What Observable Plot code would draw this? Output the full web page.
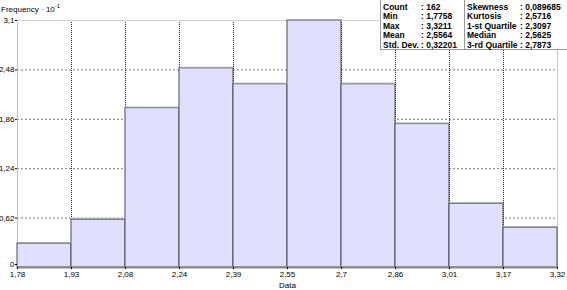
<!DOCTYPE html>
<html>
<head>
<meta charset="utf-8">
<script src="https://cdn.jsdelivr.net/npm/d3@7"></script>
<script src="https://cdn.jsdelivr.net/npm/@observablehq/plot@0.6"></script>
<style>
  body { margin: 0; background: #fff; }
  #wrap { position: relative; width: 567px; height: 290px; font-family: "Liberation Sans", Arial, sans-serif; }
  #ytitle { position: absolute; left: 1px; top: 5px; font-size: 8px; color: #000; }
  #ytitle sup { font-size: 6px; vertical-align: 4px; line-height: 0; }
  #stats { position: absolute; left: 380px; top: -1px; width: 190px; height: 51px; background: #fff; border: 1px solid #999; box-sizing: border-box; font-weight: bold; font-size: 8.5px; color: #000; }
  #stats span { position: absolute; white-space: nowrap; }
  #sep { position: absolute; left: 83px; top: 0; width: 1px; height: 50px; background: #999; }
</style>
</head>
<body>
<div id="wrap">
  <div id="chart"></div>
  <div id="ytitle">Frequency · 10<sup>-1</sup></div>
  <div id="stats"><div id="sep"></div></div>
</div>
<script>
// Bin edges (Data) and their printed labels
const binEdges = [1.7758, 1.9303, 2.0848, 2.2394, 2.3939, 2.5484, 2.7030, 2.8575, 3.0120, 3.1666, 3.3211];
const xTickLabels = ["1,78", "1,93", "2,08", "2,24", "2,39", "2,55", "2,7", "2,86", "3,01", "3,17", "3,32"];
// Frequency · 10^-1 per bin
const frequencies = [0.3, 0.6, 2.0, 2.5, 2.3, 3.1, 2.3, 1.8, 0.8, 0.5];
const yTicks = [0, 0.62, 1.24, 1.86, 2.48, 3.1];
const yTickLabels = ["0", "0,62", "1,24", "1,86", "2,48", "3,1"];
// Statistics box
const statNamesLeft = ["Count", "Min", "Max", "Mean", "Std. Dev."];
const statValuesLeft = ["162", "1,7758", "3,3211", "2,5564", "0,32201"];
const statNamesRight = ["Skewness", "Kurtosis", "1-st Quartile", "Median", "3-rd Quartile"];
const statValuesRight = ["0,089685", "2,5716", "2,3097", "2,5625", "2,7873"];

const bins = frequencies.map((f, i) => ({x1: binEdges[i], x2: binEdges[i + 1], f}));
const xFmt = new Map(binEdges.map((e, i) => [e, xTickLabels[i]]));
const yFmt = new Map(yTicks.map((t, i) => [t, yTickLabels[i]]));

const chart = Plot.plot({
  width: 567,
  height: 290,
  marginLeft: 17,
  marginRight: 10,
  marginTop: 20,
  marginBottom: 23,
  style: {fontFamily: "'Liberation Sans', Arial, sans-serif", fontSize: "8px", color: "#000", background: "#fff"},
  x: {domain: [binEdges[0], binEdges[binEdges.length - 1]]},
  y: {domain: [0, 3.1]},
  marks: [
    Plot.ruleY(yTicks.slice(1, -1), {stroke: "#7a7a7a", strokeDasharray: "2,2", strokeOpacity: 1}),
    Plot.ruleX(binEdges.slice(1, -1), {stroke: "#222", strokeDasharray: "1,1", strokeOpacity: 1}),
    Plot.ruleY([3.1], {stroke: "#d0d0d0"}),
    Plot.ruleX([binEdges[binEdges.length - 1]], {stroke: "#c8c8c8"}),
    Plot.ruleX([binEdges[0]], {stroke: "#c0c0c0"}),
    Plot.rect(bins, {x1: "x1", x2: "x2", y1: 0, y2: "f", fill: "#e0e0fe", stroke: "#4a4a58", strokeWidth: 1}),
    Plot.ruleY(bins, {x1: "x1", x2: "x2", y: "f", stroke: "#a8a8a8", dy: -1}),
    Plot.ruleY([0], {stroke: "#8a8a8a", strokeWidth: 2}),
    Plot.axisY(yTicks.slice(1), {tickSize: 2, tickPadding: 1, tickFormat: d => yFmt.get(d), label: null, fontSize: 8}),
    Plot.axisY([0], {tickSize: 2, tickPadding: 1, tickFormat: d => yFmt.get(d), label: null, fontSize: 8, dy: -3}),
    Plot.axisX(binEdges, {tickSize: 2, tickPadding: 2, tickFormat: d => xFmt.get(d), label: null, fontSize: 8}),
    Plot.text(["Data"], {frameAnchor: "bottom", dy: 20, fontSize: 8})
  ]
});
document.getElementById("chart").appendChild(chart);

const stats = document.getElementById("stats");
const cols = [[statNamesLeft, 2], [statValuesLeft, 40], [statNamesRight, 86], [statValuesRight, 139]];
cols.forEach(([arr, left], ci) => {
  arr.forEach((t, r) => {
    const s = document.createElement("span");
    s.style.left = left + "px";
    s.style.top = (2 + r * 9.4) + "px";
    s.textContent = (ci === 1 || ci === 3) ? ": " + t : t;
    stats.appendChild(s);
  });
});
</script>
</body>
</html>
